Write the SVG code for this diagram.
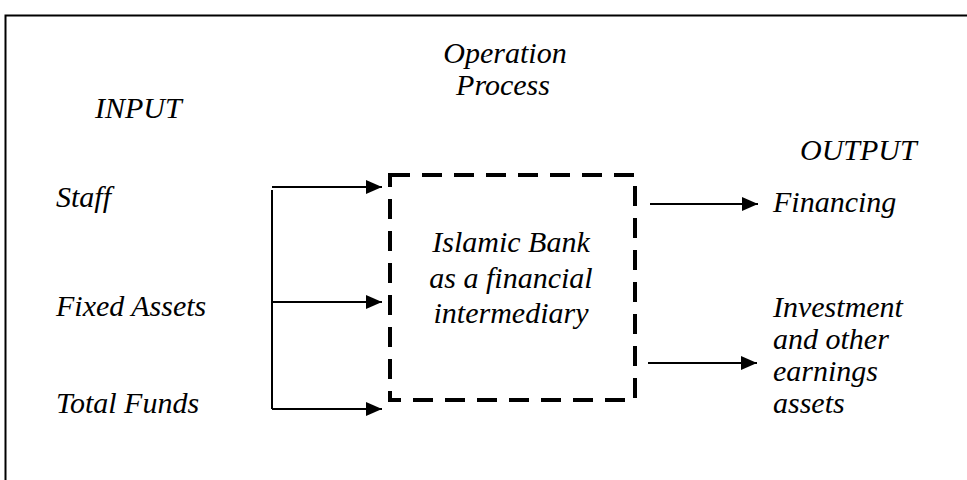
<svg xmlns="http://www.w3.org/2000/svg" width="967" height="480" viewBox="0 0 967 480">
<style>
.t{font-size:30px;fill:#000}
.c{text-anchor:middle}
.ln{stroke:#000;stroke-width:2;fill:none}
</style>
<defs>
<marker id="ah" viewBox="0 0 16 14" refX="16" refY="7" markerWidth="16" markerHeight="14" markerUnits="userSpaceOnUse" orient="auto">
<path d="M0,0L16,7L0,14z" fill="#000"/>
</marker>
</defs>
<rect x="5.5" y="15.5" width="1000" height="500" fill="#fff" stroke="#000" stroke-width="2"/>
<g font-family="Liberation Serif, serif" font-style="italic">
<g id="labels">
<text class="t" x="95" y="118">INPUT</text>
<text class="t c" x="505" y="63">Operation</text>
<text class="t c" x="503" y="95">Process</text>
<text class="t" x="800" y="160">OUTPUT</text>
</g>
<g id="staff"><text class="t" x="56" y="207">Staff</text></g>
<g id="fixed"><text class="t" x="56" y="316">Fixed Assets</text></g>
<g id="funds"><text class="t" x="56" y="413">Total Funds</text></g>
<g id="bank">
<rect x="390" y="175" width="245" height="225" fill="none" stroke="#000" stroke-width="4" stroke-dasharray="20,12"/>
<text class="t c" x="511" y="252">Islamic Bank</text>
<text class="t c" x="511" y="288">as a financial</text>
<text class="t c" x="511" y="323">intermediary</text>
</g>
<g id="financing"><text class="t" x="773" y="212">Financing</text></g>
<g id="investment">
<text class="t" x="773" y="317">Investment</text>
<text class="t" x="773" y="349">and other</text>
<text class="t" x="773" y="381">earnings</text>
<text class="t" x="773" y="413">assets</text>
</g>
</g>
<g id="connectors">
<path class="ln" d="M272,190V409"/>
<path class="ln" d="M272,187H382" marker-end="url(#ah)"/>
<path class="ln" d="M272,302H382" marker-end="url(#ah)"/>
<path class="ln" d="M272,409H382" marker-end="url(#ah)"/>
<path class="ln" d="M650,204H758" marker-end="url(#ah)"/>
<path class="ln" d="M648,363H757" marker-end="url(#ah)"/>
</g>
</svg>
